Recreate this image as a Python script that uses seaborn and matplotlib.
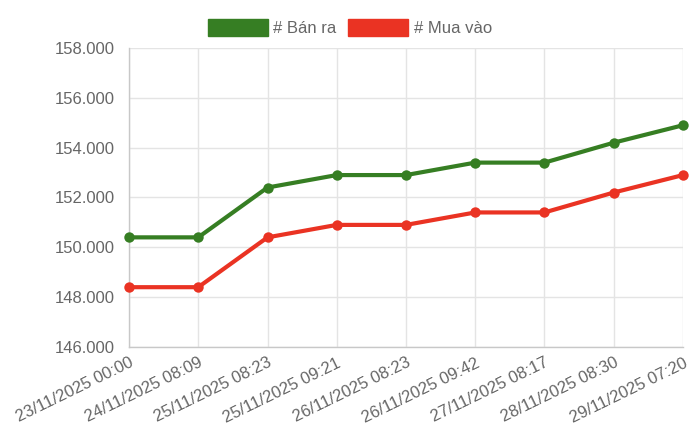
import matplotlib
matplotlib.use("Agg")
import matplotlib.pyplot as plt
import matplotlib.ticker as mticker
from matplotlib.patches import Patch
import seaborn as sns
import pandas as pd

# data
dates = ["23/11/2025 00:00", "24/11/2025 08:09", "25/11/2025 08:23",
         "25/11/2025 09:21", "26/11/2025 08:23", "26/11/2025 09:42",
         "27/11/2025 08:17", "28/11/2025 08:30", "29/11/2025 07:20"]
ban_ra = [150400, 150400, 152400, 152900, 152900, 153400, 153400, 154200, 154900]
mua_vao = [148400, 148400, 150400, 150900, 150900, 151400, 151400, 152200, 152900]
series_names = ["# Bán ra", "# Mua vào"]
colors = ["#367e23", "#ea3323"]

df = pd.DataFrame({
    "idx": list(range(len(dates))) * 2,
    "value": ban_ra + mua_vao,
    "series": [series_names[0]] * len(dates) + [series_names[1]] * len(dates),
})

sns.set_style("white")
plt.rcParams["font.family"] = ["Liberation Sans", "DejaVu Sans"]

fig = plt.figure(figsize=(7, 4.38), dpi=100)
ax = fig.add_axes([0.1843, 0.2078, 0.7914, 0.6826])

sns.lineplot(data=df, x="idx", y="value", hue="series", palette=colors,
             marker="o", markersize=7.5, markeredgewidth=0, linewidth=3,
             legend=False, ax=ax, zorder=3, clip_on=False)

ax.set_xlim(0, len(dates) - 1)
ax.set_ylim(146000, 158000)
ax.set_xticks(range(len(dates)))
ax.set_xticklabels(dates, rotation=26, ha="right", rotation_mode="anchor")
ax.yaxis.set_major_locator(mticker.MultipleLocator(2000))
ax.yaxis.set_major_formatter(mticker.FuncFormatter(lambda v, p: f"{int(v):,}".replace(",", ".")))
ax.set_xlabel("")
ax.set_ylabel("")

ax.grid(True, color="#e4e4e4", linewidth=1)
ax.set_axisbelow(True)
for s in ["top", "right"]:
    ax.spines[s].set_visible(False)
for s in ["left", "bottom"]:
    ax.spines[s].set_color("#c8c8c8")
    ax.spines[s].set_linewidth(1)
ax.tick_params(axis="both", colors="#e4e4e4", labelcolor="#666666",
               labelsize=12, length=6, width=1, pad=4.5)
ax.tick_params(axis="x", pad=0)

handles = [Patch(facecolor=c, edgecolor=c) for c in colors]
fig.legend(handles, series_names, loc="center", bbox_to_anchor=(0.5, 0.938),
           ncol=2, frameon=False, fontsize=12, labelcolor="#666666",
           handlelength=3.6, handleheight=1.2, handletextpad=0.35,
           columnspacing=0.7)

fig.savefig("out.png", dpi=100)
